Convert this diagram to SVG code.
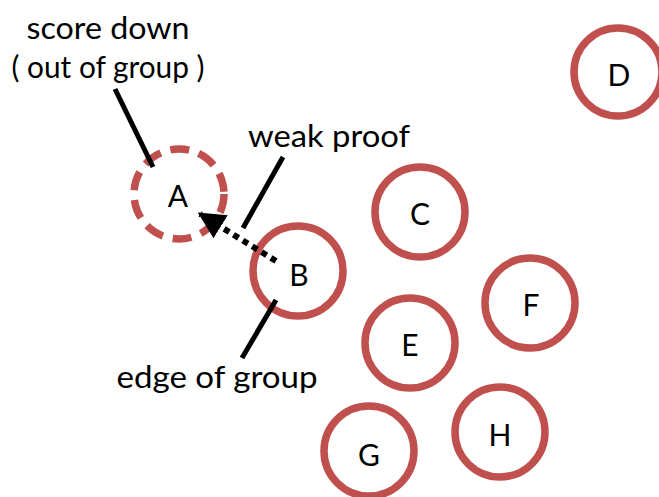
<svg xmlns="http://www.w3.org/2000/svg" width="659" height="497" viewBox="0 0 659 497">
  <defs>
    <style>
      .ring { fill: #ffffff; stroke: #c0504d; stroke-width: 7.5; }
      .ring.dashed { stroke-dasharray: 19 10; }
      .lbl { font-family: "Lato", "Open Sans", "Liberation Sans", sans-serif; font-size: 30px; fill: #000000; text-anchor: middle; }
      .pointer { stroke: #000000; stroke-width: 5; stroke-linecap: butt; fill: none; }
      .dotted { stroke: #000000; stroke-width: 6; stroke-dasharray: 6 5; fill: none; }
    </style>
    <marker id="arrowhead" viewBox="0 0 10 10" refX="9" refY="5" markerWidth="4.5" markerHeight="4.5" orient="auto" markerUnits="strokeWidth">
      <path d="M0,0 L10,5 L0,10 Z" fill="#000000"/>
    </marker>
  </defs>

  <rect width="659" height="497" fill="#ffffff"/>

  <g id="node-A"><circle class="ring dashed" cx="179" cy="194" r="45"/><text class="lbl" x="178" y="207">A</text></g>
  <g id="node-B"><circle class="ring" cx="298" cy="271" r="45"/><text class="lbl" x="299" y="286">B</text></g>
  <g id="node-C"><circle class="ring" cx="420" cy="212" r="45"/><text class="lbl" x="420" y="225">C</text></g>
  <g id="node-D"><circle class="ring" cx="618" cy="72" r="44"/><text class="lbl" x="619" y="86">D</text></g>
  <g id="node-E"><circle class="ring" cx="410" cy="343" r="45"/><text class="lbl" x="410" y="356">E</text></g>
  <g id="node-F"><circle class="ring" cx="530" cy="303" r="45"/><text class="lbl" x="531" y="316">F</text></g>
  <g id="node-G"><circle class="ring" cx="369" cy="451" r="45"/><text class="lbl" x="369" y="466">G</text></g>
  <g id="node-H"><circle class="ring" cx="500" cy="432" r="45"/><text class="lbl" x="500" y="446">H</text></g>

  <g id="connectors">
    <line class="dotted" x1="276" y1="261" x2="200" y2="214" marker-end="url(#arrowhead)"/>
    <line class="pointer" x1="115" y1="89" x2="153" y2="167"/>
    <line class="pointer" x1="283" y1="157" x2="243" y2="228"/>
    <line class="pointer" x1="276" y1="300" x2="242" y2="358"/>
  </g>

  <g id="annotations">
    <text class="lbl" x="108" y="39" textLength="163" lengthAdjust="spacingAndGlyphs">score down</text>
    <text class="lbl" x="108" y="78" textLength="193" lengthAdjust="spacingAndGlyphs">( out of group )</text>
    <text class="lbl" x="329" y="147" textLength="162" lengthAdjust="spacingAndGlyphs">weak proof</text>
    <text class="lbl" x="217" y="388" textLength="201" lengthAdjust="spacingAndGlyphs">edge of group</text>
  </g>
</svg>
